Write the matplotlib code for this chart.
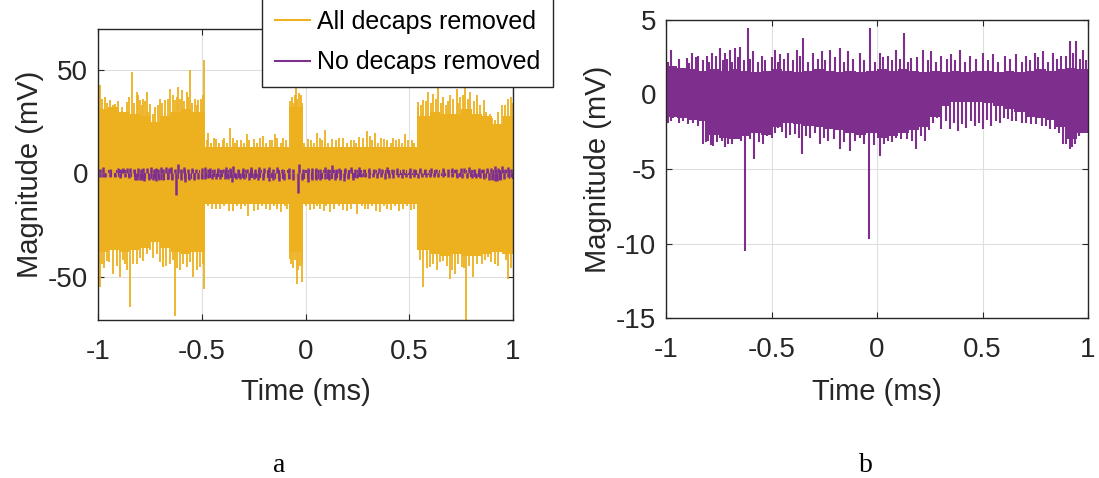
import numpy as np
import matplotlib
matplotlib.use("Agg")
import matplotlib.pyplot as plt
from matplotlib.lines import Line2D

plt.rcParams['font.family'] = ['Liberation Sans', 'DejaVu Sans']
plt.rcParams['axes.unicode_minus'] = False

ORANGE = '#EDB120'
PURPLE = '#7E2F8E'

# "All decaps removed" (mV) - solid band breakpoints
all_t = [-1.0, -0.95, -0.9, -0.85, -0.8, -0.75, -0.7, -0.65, -0.6, -0.55, -0.485, -0.4, -0.3, -0.2,
         -0.08, -0.012, 0.1, 0.2, 0.3, 0.4, 0.535, 0.6, 0.65, 0.7, 0.75, 0.8, 0.85, 0.9, 0.95, 1.0]
all_hi = [31, 32, 30, 29, 28, 25, 28, 30, 31, 30, 13, 13, 13, 13,
          32, 13, 13, 13, 13, 13, 28, 30, 29, 29, 31, 29, 28, 24, 28, 28]
all_lo = [-38, -37, -38, -37, -36, -33, -36, -38, -39, -38, -15, -15, -15, -15,
          -38, -15, -15, -15, -15, -15, -37, -39, -40, -39, -40, -40, -39, -38, -39, -39]

# tall peaks of "All decaps removed"
all_up_t = [-0.990, -0.966, -0.942, -0.918, -0.862, -0.838, -0.814, -0.798, -0.782, -0.766, -0.749, -0.725,
            -0.701, -0.677, -0.653, -0.629, -0.613, -0.597, -0.573, -0.557, -0.533, -0.517, -0.488,
            -0.468, -0.430, -0.395, -0.364, -0.330, -0.283, -0.250, -0.203, -0.170, -0.147, -0.110,
            -0.067, -0.046, -0.023,
            0.010, 0.054, 0.094, 0.130, 0.183, 0.220, 0.260, 0.295, 0.335, 0.380, 0.420, 0.450, 0.480, 0.515,
            0.544, 0.568, 0.592, 0.616, 0.640, 0.664, 0.696, 0.729, 0.745, 0.769, 0.793, 0.826, 0.858,
            0.889, 0.913, 0.946, 0.978, 0.990]
all_up_v = [42.7, 37.0, 35.4, 33.8, 34.6, 49.1, 39.4, 35.4, 36.2, 39.4, 33.8, 32.2,
            36.2, 35.4, 41.1, 35.4, 41.9, 40.3, 39.4, 50.0, 36.2, 35.4, 54.8,
            19.5, 16.5, 17.0, 22.2, 16.0, 18.9, 16.5, 18.1, 16.0, 18.9, 17.0,
            37.0, 42.7, 37.8,
            16.5, 19.7, 21.3, 16.5, 17.3, 16.0, 17.5, 20.5, 19.7, 16.5, 17.0, 16.5, 18.9, 16.0,
            34.6, 35.4, 39.4, 38.6, 44.3, 37.0, 37.8, 41.1, 37.0, 45.1, 39.4, 37.8, 35.4,
            29.0, 26.0, 33.0, 36.2, 37.0]
# smaller peaks (fringe) of "All decaps removed"
all_up2_t = [-0.98, -0.955, -0.93, -0.905, -0.885, -0.85, -0.825, -0.805, -0.79, -0.775, -0.757, -0.737,
             -0.713, -0.69, -0.665, -0.64, -0.62, -0.605, -0.585, -0.565, -0.545, -0.525, -0.505, -0.495,
             -0.475, -0.455, -0.44, -0.415, -0.40, -0.38, -0.35, -0.34, -0.31, -0.295, -0.27, -0.235,
             -0.22, -0.19, -0.16, -0.135, -0.12, -0.095,
             -0.075, -0.06, -0.053, -0.04, -0.032, -0.017,
             -0.005, 0.025, 0.04, 0.07, 0.08, 0.11, 0.145, 0.16, 0.2, 0.235, 0.245, 0.275, 0.31, 0.32,
             0.35, 0.365, 0.395, 0.41, 0.435, 0.465, 0.495, 0.525,
             0.54, 0.555, 0.58, 0.604, 0.628, 0.652, 0.676, 0.686, 0.712, 0.737, 0.757, 0.781, 0.81,
             0.84, 0.87, 0.9, 0.93, 0.96, 0.995]
all_up2_v = [36, 34, 33, 35, 32, 37, 34, 38, 33, 35, 30, 29, 33, 34, 36, 38, 37, 36, 35, 37, 34, 33, 36, 38,
             16, 15, 17, 15, 16, 15, 17, 15, 16, 15, 16, 15, 17, 15, 16, 17, 15, 16,
             35, 34, 38, 36, 39, 34,
             15, 16, 15, 17, 16, 15, 16, 17, 15, 16, 15, 17, 18, 16, 15, 17, 16, 15, 16, 15, 16, 15,
             32, 33, 35, 34, 36, 34, 33, 35, 36, 34, 38, 36, 35, 33, 30, 27, 30, 33, 34]
all_dn_t = [-0.990, -0.958, -0.926, -0.894, -0.870, -0.846, -0.814, -0.782, -0.749, -0.717, -0.685, -0.653,
            -0.629, -0.605, -0.573, -0.541, -0.508, -0.488,
            -0.450, -0.412, -0.350, -0.276, -0.230, -0.171, -0.120,
            -0.075, -0.042, -0.018,
            0.022, 0.070, 0.118, 0.180, 0.247, 0.300, 0.359, 0.410, 0.471, 0.510,
            0.544, 0.568, 0.600, 0.632, 0.664, 0.696, 0.720, 0.753, 0.773, 0.809, 0.849, 0.881,
            0.913, 0.953, 0.978]
all_dn_v = [-55.1, -42.2, -48.6, -50.3, -44.0, -64.8, -43.8, -42.2, -37.3, -39.0, -45.4, -43.8,
            -68.9, -47.0, -45.4, -50.3, -45.4, -55.9,
            -17.0, -17.1, -18.0, -20.4, -17.5, -17.9, -18.5,
            -41.4, -53.5, -52.7,
            -17.9, -17.0, -18.8, -17.5, -19.6, -17.0, -18.8, -17.5, -17.1, -17.8,
            -37.3, -55.1, -45.4, -47.0, -42.2, -51.1, -48.6, -45.4, -71.3, -50.3, -43.8, -40.6,
            -43.8, -39.0, -51.1]
all_dn2_t = [-0.98, -0.97, -0.945, -0.91, -0.88, -0.858, -0.83, -0.80, -0.765, -0.733, -0.70, -0.67,
             -0.64, -0.617, -0.59, -0.557, -0.525, -0.495,
             -0.47, -0.43, -0.395, -0.37, -0.33, -0.31, -0.29, -0.25, -0.21, -0.19, -0.15, -0.135,
             -0.10, -0.09,
             -0.07, -0.058, -0.05, -0.035, -0.025, -0.015,
             0.0, 0.04, 0.055, 0.09, 0.1, 0.135, 0.16, 0.2, 0.22, 0.27, 0.285, 0.32, 0.34, 0.38,
             0.395, 0.43, 0.45, 0.49, 0.525,
             0.55, 0.585, 0.615, 0.648, 0.68, 0.708, 0.737, 0.762, 0.79, 0.825, 0.865, 0.895, 0.93,
             0.965, 0.99]
all_dn2_v = [-44, -46, -43, -45, -42, -47, -44, -41, -39, -41, -43, -45, -42, -46, -44, -43, -47, -44,
             -16, -17, -16, -18, -16, -17, -16, -18, -16, -17, -16, -17, -16, -17,
             -44, -46, -42, -47, -45, -43,
             -16, -17, -16, -18, -16, -17, -16, -18, -17, -16, -17, -16, -18, -16, -17, -16, -18,
             -16, -17,
             -42, -46, -44, -43, -45, -47, -44, -46, -45, -44, -42, -43, -45, -42, -46]

# "No decaps removed" (mV) - solid band every 0.05 ms
no_t = np.linspace(-1, 1, 41)
no_hi = [1.9, 1.8, 1.7, 1.6, 1.7, 1.6, 1.7, 1.6, 1.5, 1.6, 1.7, 1.6, 1.5, 1.6, 1.7, 1.6, 1.5, 1.6, 1.5, 1.6,
         1.7, 1.6, 1.7, 1.6, 1.5, 1.6, 1.5, 1.6, 1.5, 1.6, 1.6, 1.5, 1.6, 1.5, 1.6, 1.7, 1.6, 1.7, 1.8, 1.7, 1.8]
no_lo = [-1.5, -1.6, -1.7, -1.8, -2.7, -2.9, -3.0, -2.8, -2.6, -2.7, -2.2, -1.9, -2.0, -2.1, -2.2, -2.3,
         -2.4, -2.6, -2.7, -2.6, -2.9, -2.8, -2.6, -2.4, -2.2, -1.5, -0.8, -0.5, -0.5, -0.5, -0.6, -0.8,
         -1.0, -1.2, -1.5, -1.6, -1.7, -2.2, -3.0, -2.6, -1.6]

no_up_t = [-0.978, -0.902, -0.878, -0.847, -0.807, -0.784, -0.744, -0.721, -0.697, -0.673, -0.650, -0.613,
           -0.586, -0.547, -0.484, -0.460, -0.421, -0.381, -0.350, -0.302, -0.263, -0.223, -0.176, -0.137,
           -0.081, -0.031, 0.013, 0.053, 0.092, 0.127, 0.163, 0.219, 0.258, 0.305, 0.353, 0.392, 0.440,
           0.503, 0.550, 0.605, 0.661, 0.708, 0.747, 0.787, 0.834, 0.874, 0.913, 0.945, 0.976]
no_up_v = [3.0, 2.46, 2.8, 2.57, 2.6, 2.8, 3.1, 2.8, 3.0, 3.1, 3.2, 4.46,
           2.9, 2.57, 3.0, 2.7, 2.8, 3.0, 3.8, 2.8, 2.9, 3.0, 3.1, 2.9,
           2.8, 4.46, 2.8, 2.57, 3.0, 4.1, 2.46, 3.0, 2.9, 2.57, 2.7, 3.0, 2.57,
           2.8, 2.7, 2.57, 2.7, 2.57, 2.8, 2.9, 2.8, 2.57, 3.6, 3.6, 3.0]
no_up2_t = [-0.99, -0.94, -0.89, -0.86, -0.825, -0.795, -0.765, -0.73, -0.71, -0.685,
            -0.66, -0.63, -0.60, -0.565, -0.53, -0.50, -0.47, -0.44, -0.40, -0.365,
            -0.325, -0.28, -0.245, -0.20, -0.155, -0.115, -0.06, -0.01, 0.03, 0.07,
            0.11, 0.145, 0.19, 0.24, 0.28, 0.33, 0.37, 0.415, 0.47, 0.525,
            0.575, 0.63, 0.685, 0.725, 0.765, 0.81, 0.855, 0.895, 0.93, 0.96, 0.99]
no_up2_v = [2.2, 2.4, 2.1, 2.5, 2.3, 2.2, 2.6, 2.3, 2.4, 2.2,
            2.5, 2.3, 2.4, 2.2, 2.3, 2.5, 2.2, 2.4, 2.3, 2.6,
            2.2, 2.4, 2.3, 2.5, 2.2, 2.4, 2.3, 2.2, 2.5, 2.3,
            2.4, 2.2, 2.5, 2.3, 2.2, 2.4, 2.3, 2.2, 2.4, 2.3,
            2.2, 2.4, 2.2, 2.3, 2.5, 2.2, 2.4, 2.6, 2.8, 2.4, 2.3]
no_dn_t = [-0.989, -0.965, -0.918, -0.871, -0.823, -0.800, -0.776, -0.736, -0.705, -0.665,
           -0.624, -0.582, -0.539, -0.500, -0.468, -0.429, -0.389, -0.354, -0.318, -0.271,
           -0.231, -0.176, -0.129, -0.081, -0.036, 0.013, 0.053, 0.092, 0.140, 0.187,
           0.227, 0.266, 0.305, 0.345, 0.384, 0.424, 0.463, 0.503, 0.542, 0.582,
           0.621, 0.661, 0.708, 0.755, 0.803, 0.842, 0.882, 0.913, 0.937, 0.976]
no_dn_v = [-1.9, -1.56, -1.79, -1.9, -3.35, -3.13, -3.46, -3.13, -3.35, -2.9,
           -10.5, -4.35, -3.35, -2.9, -2.23, -2.9, -2.68, -4.02, -2.9, -3.35,
           -3.13, -3.68, -3.79, -2.9, -9.7, -4.13, -3.13, -2.9, -3.0, -3.68,
           -3.13, -1.9, -2.34, -2.34, -2.46, -2.23, -2.12, -2.34, -2.12, -1.9,
           -1.67, -1.79, -1.9, -2.0, -2.12, -2.34, -3.35, -3.68, -3.35, -1.6]
no_dn2_t = [-0.977, -0.94, -0.895, -0.85, -0.812, -0.788, -0.756, -0.72, -0.685, -0.645,
            -0.60, -0.56, -0.52, -0.484, -0.45, -0.41, -0.372, -0.336, -0.295, -0.25,
            -0.205, -0.155, -0.105, -0.06, -0.015, 0.033, 0.072, 0.115, 0.165, 0.207,
            0.247, 0.286, 0.325, 0.365, 0.404, 0.444, 0.483, 0.522, 0.562, 0.60,
            0.64, 0.685, 0.73, 0.78, 0.822, 0.862, 0.897, 0.925, 0.955, 0.99]
no_dn2_v = [-1.8, -1.9, -2.0, -2.1, -3.2, -3.4, -3.2, -3.5, -3.3, -3.1,
            -3.0, -3.2, -2.8, -2.6, -2.5, -2.7, -2.9, -2.8, -2.6, -2.9,
            -3.0, -3.2, -3.1, -3.3, -3.4, -3.3, -3.2, -3.0, -3.1, -2.8,
            -2.4, -1.6, -1.8, -1.9, -2.0, -1.8, -1.9, -1.7, -1.8, -1.6,
            -1.8, -1.9, -2.0, -2.1, -2.3, -2.6, -3.3, -3.5, -2.8, -1.9]

x_ticks = [-1, -0.5, 0, 0.5, 1]
x_labels = ['-1', '-0.5', '0', '0.5', '1']


def draw_signal(ax, t, hi, lo, peaks, color, lw):
    ax.fill_between(t, lo, hi, step='post', color=color, lw=0)
    for pt, pv in peaks:
        ax.vlines(pt, 0, pv, color=color, lw=lw)


def style_axes(ax):
    ax.grid(True, color='#dfdfdf', lw=0.8)
    ax.set_axisbelow(True)
    for s in ax.spines.values():
        s.set_color('#262626')
        s.set_linewidth(1.0)
    ax.tick_params(direction='in', length=4, width=0.8, color='#262626',
                   top=True, right=True, labelsize=20, labelcolor='#262626')
    ax.tick_params(axis='y', pad=7)
    ax.tick_params(axis='x', pad=14)
    ax.set_xlim(-1, 1)
    ax.set_xticks(x_ticks)
    ax.set_xticklabels(x_labels)


all_peaks = [(all_up_t, all_up_v), (all_up2_t, all_up2_v), (all_dn_t, all_dn_v), (all_dn2_t, all_dn2_v)]
no_peaks = [(no_up_t, no_up_v), (no_up2_t, no_up2_v), (no_dn_t, no_dn_v), (no_dn2_t, no_dn2_v)]

fig = plt.figure(figsize=(10.99, 4.78), dpi=100)

# panel a
ax1 = fig.add_axes([98 / 1099, 1 - 320 / 478, 415 / 1099, 291 / 478])
draw_signal(ax1, all_t, all_hi, all_lo, all_peaks, ORANGE, 1.3)
draw_signal(ax1, no_t, no_hi, no_lo, no_peaks, PURPLE, 1.8)
style_axes(ax1)
ax1.set_ylim(-71, 70)
ax1.set_yticks([-50, 0, 50])
ax1.set_yticklabels(['-50', '0', '50'])
ax1.set_xlabel('Time (ms)', fontsize=21, color='#262626')
ax1.set_ylabel('Magnitude (mV)', fontsize=21, color='#262626')
ax1.yaxis.set_label_coords(-0.13, 0.5)
ax1.xaxis.set_label_coords(0.5, -0.2)

handles = [Line2D([], [], color=ORANGE, lw=1.5), Line2D([], [], color=PURPLE, lw=1.5)]
leg = fig.legend(handles, ['All decaps removed', 'No decaps removed'],
                 loc='upper left', bbox_to_anchor=(262 / 1099, 1.005), fontsize=18,
                 handlelength=1.4, handletextpad=0.3, borderpad=0.5, labelspacing=0.65,
                 fancybox=False, framealpha=1, borderaxespad=0)
leg.get_frame().set_edgecolor('#262626')
leg.get_frame().set_linewidth(1.0)

# panel b
ax2 = fig.add_axes([666 / 1099, 1 - 318 / 478, 422 / 1099, 298 / 478])
draw_signal(ax2, no_t, no_hi, no_lo, no_peaks, PURPLE, 1.5)
style_axes(ax2)
ax2.set_ylim(-15, 5)
ax2.set_yticks([-15, -10, -5, 0, 5])
ax2.set_yticklabels(['-15', '-10', '-5', '0', '5'])
ax2.set_xlabel('Time (ms)', fontsize=21, color='#262626')
ax2.set_ylabel('Magnitude (mV)', fontsize=21, color='#262626')
ax2.yaxis.set_label_coords(-0.128, 0.5)
ax2.xaxis.set_label_coords(0.5, -0.2)

fig.text(279 / 1099, 1 - 465 / 478, 'a', fontsize=20, family='Liberation Serif', ha='center', va='center')
fig.text(866 / 1099, 1 - 465 / 478, 'b', fontsize=20, family='Liberation Serif', ha='center', va='center')

fig.savefig('out.png', dpi=100)
